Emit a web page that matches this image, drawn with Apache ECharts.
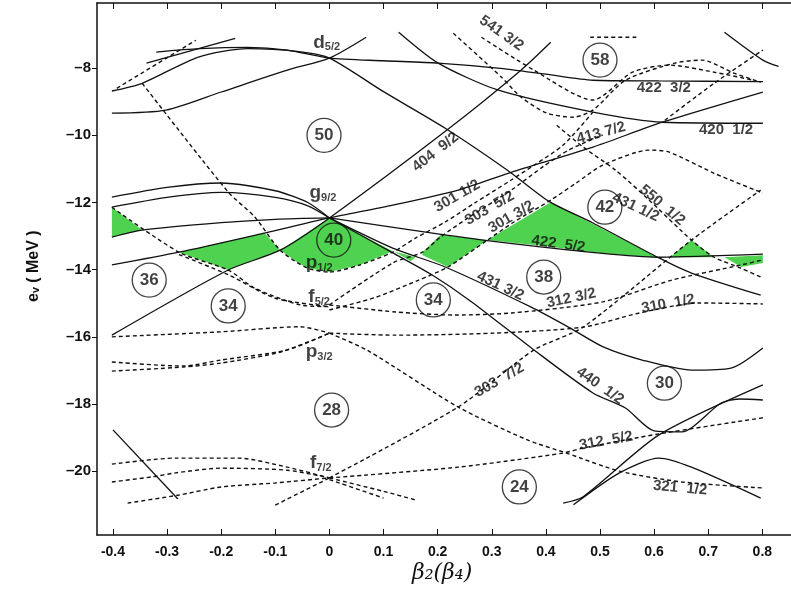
<!DOCTYPE html>
<html><head><meta charset="utf-8">
<script src="https://cdn.jsdelivr.net/npm/echarts@6/dist/echarts.min.js"></script>
<style>html,body{margin:0;padding:0;background:#fff}#c{width:791px;height:601px}</style>
</head><body><div id="c"></div>
<script>
// ---- axis ticks ----
const xTicks = [-0.4,-0.3,-0.2,-0.1,0,0.1,0.2,0.3,0.4,0.5,0.6,0.7,0.8];
const yTicks = [-20,-18,-16,-14,-12,-10,-8];

// ---- solid levels [beta, e] ----
const sTopHump = [[-0.320,-7.52],[-0.24,-7.42],[-0.151,-7.38],[-0.078,-7.46],[0.0,-7.70],[0.1,-7.78],[0.201,-7.85],[0.311,-8.0],[0.4,-8.18],[0.487,-8.36],[0.609,-8.38],[0.801,-8.40]];
const sD52a = [[-0.402,-8.68],[-0.346,-8.45],[-0.242,-7.67],[-0.151,-7.42],[-0.06,-7.5],[0.0,-7.70],[0.1,-8.7],[0.214,-9.79],[0.329,-11.04],[0.405,-11.96],[0.487,-12.61],[0.609,-13.65],[0.669,-14.10],[0.797,-14.76]];
const sD52b = [[-0.402,-9.34],[-0.302,-9.25],[-0.200,-8.71],[-0.078,-8.06],[0.0,-7.70],[0.068,-7.08]];
const sShort = [[-0.338,-7.85],[-0.174,-7.11]];
const s420 = [[0.128,-6.93],[0.201,-7.85],[0.311,-8.65],[0.487,-9.31],[0.615,-9.61],[0.801,-9.64]];
const s404 = [[-0.402,-15.95],[-0.187,-14.01],[-0.091,-13.42],[0.0,-12.46],[0.219,-9.82],[0.354,-8.06],[0.409,-7.23]];
const s413 = [[-0.402,-13.86],[-0.278,-13.48],[-0.120,-12.91],[0.0,-12.46],[0.117,-12.08],[0.238,-11.63],[0.336,-11.1],[0.487,-10.35],[0.615,-9.61],[0.801,-8.71]];
const sG1 = [[-0.402,-11.84],[-0.3,-11.55],[-0.2,-11.42],[-0.1,-11.65],[-0.04,-12.0],[0.0,-12.46]];
const sG2 = [[-0.402,-12.14],[-0.3,-11.85],[-0.2,-11.7],[-0.1,-11.85],[-0.04,-12.1],[0.0,-12.46]];
const sG3 = [[-0.402,-13.03],[-0.346,-12.82],[-0.2,-12.6],[-0.1,-12.5],[0.0,-12.46]];
const s422 = [[0.0,-12.46],[0.178,-12.88],[0.3,-13.15],[0.5,-13.51],[0.609,-13.63],[0.801,-13.54]];
const s431 = [[0.0,-12.46],[0.117,-13.36],[0.214,-13.92],[0.372,-15.11],[0.445,-15.74],[0.506,-16.30],[0.578,-16.69],[0.669,-16.99],[0.742,-16.93],[0.801,-16.33]];
const s440 = [[0.0,-12.46],[0.117,-13.5],[0.19,-14.16],[0.263,-14.96],[0.378,-16.39],[0.487,-17.67],[0.547,-18.12],[0.6,-18.8],[0.651,-18.83],[0.724,-17.97],[0.76,-17.85],[0.801,-17.88]];
const sBL = [[-0.400,-18.77],[-0.28,-20.83]];
const sBR1 = [[0.432,-20.95],[0.469,-20.76],[0.609,-18.92],[0.801,-17.43]];
const sBR2 = [[0.451,-21.0],[0.536,-20.05],[0.609,-19.61],[0.669,-19.88],[0.797,-20.80]];
const sTR = [[0.730,-6.93],[0.801,-7.76],[0.83,-7.95]];

// ---- dashed levels ----
const dA = [[-0.393,-8.60],[-0.247,-7.17]];
const dP12 = [[-0.346,-8.45],[-0.187,-11.69],[-0.138,-12.43],[-0.091,-13.42],[-0.041,-13.95],[0.0,-14.07],[0.056,-13.86],[0.117,-13.48],[0.159,-13.06],[0.214,-12.58],[0.268,-12.02],[0.336,-11.33],[0.378,-10.89],[0.432,-10.29],[0.487,-9.31]];
const d303b = [[0.0,-15.05],[0.117,-13.80],[0.172,-13.48],[0.205,-13.03],[0.256,-12.46],[0.336,-11.63],[0.396,-10.92],[0.442,-10.44],[0.505,-9.99]];
const d301c = [[0.0,-15.20],[0.086,-14.82],[0.165,-14.31],[0.219,-13.92],[0.292,-13.12],[0.341,-12.58],[0.409,-11.93],[0.456,-11.42],[0.505,-10.89],[0.591,-10.44],[0.628,-10.50],[0.711,-11.13],[0.801,-11.72]];
const d312a = [[0.0,-15.05],[0.123,-15.26],[0.232,-15.35],[0.336,-15.29],[0.505,-14.96],[0.633,-14.31],[0.761,-13.86],[0.801,-13.71]];
const d310 = [[0.0,-15.89],[0.123,-15.95],[0.305,-15.89],[0.469,-15.71],[0.573,-15.29],[0.682,-14.99],[0.801,-15.02]];
const dF52a = [[-0.402,-12.14],[-0.278,-13.48],[-0.187,-14.01],[-0.138,-14.55],[-0.054,-15.05],[0.0,-15.1]];
const dF52b = [[-0.278,-13.55],[-0.187,-14.15],[-0.1,-14.85],[0.0,-15.1]];
const dLeftMid = [[-0.402,-16.0],[-0.2,-15.85],[-0.054,-15.7],[0.0,-15.89]];
const dP32a = [[-0.402,-16.75],[-0.27,-16.87],[-0.2,-16.69],[-0.078,-16.39],[0.0,-15.89]];
const dP32b = [[-0.402,-17.02],[-0.27,-16.9],[-0.2,-16.78],[-0.09,-16.45],[0.0,-15.89]];
const dF72a = [[-0.402,-19.79],[-0.284,-19.61],[-0.169,-19.61],[-0.078,-19.88],[0.0,-20.2]];
const dF72b = [[-0.402,-20.32],[-0.328,-20.17],[-0.284,-20.05],[-0.2,-19.91],[-0.078,-19.97],[0.0,-20.2]];
const dF72c = [[-0.373,-20.95],[-0.278,-20.71],[-0.2,-20.47],[-0.1,-20.35],[0.0,-20.2]];
const dF72d = [[-0.1,-21.01],[0.0,-20.2]];
const dF72e = [[0.0,-20.2],[0.1,-20.6],[0.16,-20.86]];
const dF72f = [[0.0,-20.25],[0.1,-20.8]];
const d303 = [[0.0,-20.2],[0.238,-18.09],[0.378,-16.39],[0.469,-15.71],[0.669,-13.12],[0.797,-11.63]];
const d312b = [[0.0,-20.2],[0.238,-19.88],[0.432,-19.46],[0.469,-19.31],[0.609,-18.89],[0.801,-18.41]];
const d321 = [[0.0,-15.89],[0.07,-16.4],[0.238,-18.09],[0.366,-19.07],[0.438,-19.46],[0.536,-20.0],[0.651,-20.32],[0.801,-20.5]];
const d550 = [[0.42,-9.7],[0.469,-10.35],[0.529,-11.04],[0.591,-11.93],[0.669,-13.12],[0.711,-13.63],[0.76,-13.95],[0.797,-14.22]];
const d541a = [[0.229,-6.96],[0.318,-8.27],[0.354,-8.86],[0.402,-9.34],[0.451,-9.46],[0.487,-9.25],[0.547,-8.36],[0.638,-7.85],[0.688,-7.76],[0.748,-8.15],[0.797,-8.42]];
const d541b = [[0.281,-7.08],[0.378,-8.06],[0.487,-8.95],[0.56,-8.12],[0.628,-7.91],[0.711,-8.12],[0.784,-8.36]];
const dTop58 = [[0.482,-7.08],[0.569,-7.08]];
const dRiseTR = [[0.62,-9.55],[0.711,-8.45],[0.801,-7.46]];

// ---- green (Pauli-blocked) regions ----
const green1 = [[-0.402,-12.14],[-0.402,-13.03],[-0.346,-12.82]];
const green2 = [[-0.278,-13.48],[-0.120,-12.91],[-0.091,-13.42],[-0.187,-14.01]];
const green3 = [[-0.091,-13.42],[0.0,-12.46],[0.117,-13.45],[0.056,-13.86],[0.0,-14.07],[-0.041,-13.95],[-0.06,-13.77]];
const green4a = [[0.119,-13.45],[0.159,-13.63],[0.15,-13.75]];
const green4 = [[0.172,-13.48],[0.205,-12.97],[0.292,-13.12],[0.219,-13.92],[0.172,-13.57]];
const green5 = [[0.292,-13.12],[0.409,-11.99],[0.505,-12.79],[0.609,-13.65],[0.505,-13.51],[0.4,-13.3]];
const green6 = [[0.629,-13.63],[0.669,-13.12],[0.711,-13.63]];
const green7 = [[0.73,-13.63],[0.801,-13.57],[0.801,-13.80],[0.761,-13.92]];

// ---- magic numbers (circled) ----
const magic = [[0.5,-7.76,'58'],[-0.01,-10.0,'50'],[0.008,-13.12,'40'],[-0.333,-14.31,'36'],[-0.187,-15.08,'34'],[0.192,-14.9,'34'],[0.396,-14.22,'38'],[0.509,-12.14,'42'],[0.619,-17.38,'30'],[0.004,-18.18,'28'],[0.351,-20.47,'24']];

// ---- text labels ----
const shellLabels = [[-0.005,-7.23,'d','5/2'],[-0.012,-11.72,'g','9/2'],[-0.019,-13.80,'p','1/2'],[-0.019,-14.82,'f','5/2'],[-0.019,-16.45,'p','3/2'],[-0.016,-19.76,'f','7/2']];
const nilssonLabels = [
 [0.318,-6.96,'541 3/2',-35],[0.618,-8.60,'422  3/2',0],[0.502,-9.93,'413 7/2',15],[0.733,-9.85,'420  1/2',0],
 [0.196,-10.5,'404  9/2',38],[0.615,-12.08,'550  1/2',-40],[0.236,-11.81,'301 1/2',30],[0.296,-12.17,'303  5/2',30],
 [0.336,-12.43,'301 3/2',30],[0.423,-13.24,'422  5/2',-8],[0.566,-12.14,'431 1/2',-25],[0.316,-14.49,'431 3/2',-25],
 [0.447,-14.85,'312 3/2',12],[0.626,-15.02,'310  1/2',10],[0.314,-17.29,'303  7/2',30],[0.5,-17.46,'440  1/2',-35],
 [0.511,-19.1,'312  5/2',10],[0.648,-20.5,'321  1/2',-5]];

const solidLines = [sTopHump,sD52a,sD52b,sShort,s420,s404,s413,sG1,sG2,sG3,s422,s431,s440,sBL,sBR1,sBR2,sTR];
const dashedLines = [dA,dP12,d303b,d301c,d312a,d310,dF52a,dF52b,dLeftMid,dP32a,dP32b,dF72a,dF72b,dF72c,dF72d,dF72e,dF72f,d303,d312b,d321,d550,d541a,d541b,dTop58,dRiseTR];
const greens = [green1,green2,green3,green4a,green4,green5,green6,green7];

const chart = echarts.init(document.getElementById('c'), null, {renderer:'canvas'});
const FONT = 'Liberation Sans';
const series = [];
greens.forEach(poly => series.push({
  type:'custom', data:[0], silent:true, z:1,
  renderItem:(params, api) => ({type:'polygon', shape:{points: poly.map(p => api.coord(p))}, style:{fill:'#4fd24f', stroke:'none'}})
}));
solidLines.forEach(d => series.push({type:'line', data:d, smooth:0.25, symbol:'none', silent:true, z:3,
  lineStyle:{color:'#111', width:1.3}}));
dashedLines.forEach(d => series.push({type:'line', data:d, smooth:0.25, symbol:'none', silent:true, z:3,
  lineStyle:{color:'#111', width:1.4, type:[4,3]}}));
series.push({type:'scatter', data:magic, symbol:'circle', symbolSize:34, z:5, silent:true,
  itemStyle:{color:'rgba(0,0,0,0)', borderColor:'#111', borderWidth:1.3},
  label:{show:true, position:'inside', formatter:p=>p.value[2], color:'#111', fontFamily:FONT, fontWeight:'bold', fontSize:17}});
series.push({type:'scatter', symbolSize:0, z:6, silent:true,
  data: shellLabels.map(s => ({value:[s[0],s[1]], name:s[2]+'|'+s[3]})),
  label:{show:true, position:'inside', color:'#111', fontFamily:FONT,
    formatter:p=>{const [a,b]=p.name.split('|'); return '{m|'+a+'}{s|'+b+'}';},
    rich:{m:{fontSize:19, fontWeight:'bold', fontFamily:FONT, color:'#111'}, s:{fontSize:11, fontWeight:'bold', fontFamily:FONT, color:'#111', padding:[10,0,0,0]}}}});
series.push({type:'scatter', symbolSize:0, z:6, silent:true,
  data: nilssonLabels.map(s => ({value:[s[0],s[1]], name:s[2], label:{rotate:s[3]}})),
  label:{show:true, position:'inside', formatter:p=>p.name, color:'#111', fontFamily:FONT, fontWeight:'bold', fontSize:15}});

const xAxisBase = {type:'value', min:-0.4295, max:0.853, splitLine:{show:false},
  axisLine:{onZero:false, lineStyle:{color:'#111', width:1.5}}};
chart.setOption({
  animation:false,
  grid:{left:97, top:3, width:704, height:532},
  xAxis:[
    Object.assign({}, xAxisBase, {position:'bottom',
      axisTick:{inside:true, length:6, customValues:xTicks, lineStyle:{color:'#111'}},
      axisLabel:{customValues:xTicks, formatter:v=>v===0?'0':v.toFixed(1), color:'#111', fontFamily:FONT, fontWeight:'bold', fontSize:14, margin:10}}),
    Object.assign({}, xAxisBase, {position:'top',
      axisTick:{inside:true, length:6, customValues:xTicks, lineStyle:{color:'#111'}},
      axisLabel:{show:false}})
  ],
  yAxis:{type:'value', min:-21.9, max:-6.06, splitLine:{show:false},
    axisLine:{onZero:false, lineStyle:{color:'#111', width:1.5}},
    axisTick:{inside:false, length:5, customValues:yTicks, lineStyle:{color:'#111'}},
    axisLabel:{customValues:yTicks, formatter:v=>'\u2013'+Math.abs(v), color:'#111', fontFamily:FONT, fontWeight:'bold', fontSize:15, margin:6}},
  graphic:[
    {type:'text', x:412, y:562, style:{text:'\u03b2\u2082(\u03b2\u2084)', font:'italic 22px "DejaVu Serif"', fill:'#111'}},
    {type:'text', x:34, y:302, rotation:Math.PI/2, style:{text:'e\u1d65 ( MeV )', font:'bold 16px "Liberation Sans"', fill:'#111', textVerticalAlign:'middle'}}
  ],
  series
});
</script></body></html>
